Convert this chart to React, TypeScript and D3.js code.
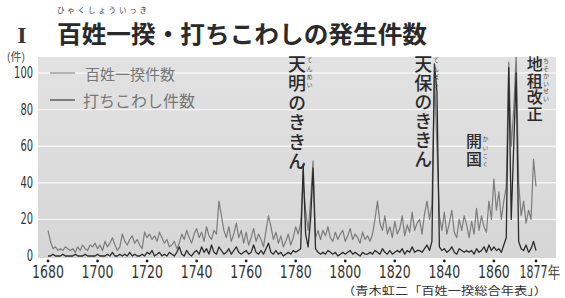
import React from 'react';
import * as d3 from 'd3';

// yearly counts, 1680 - 1877
const startYear = 1680;
const ikkiCounts = [
  14, 8, 4, 5, 3, 4, 3, 5, 4, 3,
  4, 2, 5, 3, 6, 4, 3, 6, 5, 7,
  4, 6, 3, 8, 5, 7, 10, 6, 3, 5,
  12, 8, 6, 9, 11, 7, 9, 6, 4, 13,
  10, 12, 9, 11, 8, 13, 10, 7, 9, 5,
  6, 8, 4, 7, 12, 9, 14, 10, 7, 12,
  15, 10, 13, 8, 16, 11, 9, 14, 12, 30,
  22, 14, 10, 16, 8, 12, 18, 10, 14, 7,
  13, 6, 10, 15, 8, 12, 9, 5, 14, 22,
  16, 9, 13, 7, 11, 5, 8, 12, 6, 10,
  16, 12, 18, 40, 25, 14, 30, 52, 10, 14,
  9, 14, 11, 16, 10, 8, 13, 9, 12, 14,
  8, 11, 15, 9, 12, 10, 7, 13, 9, 11,
  8, 12, 20, 30, 18, 14, 22, 12, 16, 10,
  19, 12, 15, 22, 11, 17, 13, 24, 14, 18,
  20, 12, 23, 30, 20, 28, 100, 60, 22, 14,
  24, 12, 18, 25, 13, 10, 20, 14, 22, 17,
  10, 19, 12, 26, 14, 22, 16, 13, 30, 20,
  42, 25, 35, 20, 30, 38, 106, 60, 80, 110,
  40, 22, 30, 18, 25, 20, 53, 38,
];
const uchikowashiCounts = [
  0, 0, 1, 0, 0, 0, 1, 0, 0, 0,
  0, 1, 0, 0, 0, 1, 0, 0, 0, 0,
  1, 0, 0, 0, 1, 0, 2, 0, 0, 1,
  0, 1, 0, 2, 0, 1, 0, 0, 1, 0,
  2, 1, 3, 0, 1, 2, 0, 1, 0, 2,
  1, 0, 2, 5, 1, 0, 3, 1, 0, 2,
  3, 1, 5, 2, 4, 1, 6, 2, 1, 5,
  3, 1, 2, 4, 1, 3, 5, 2, 1, 2,
  3, 1, 2, 6, 2, 1, 3, 1, 4, 7,
  2, 1, 3, 1, 2, 0, 1, 2, 1, 3,
  2, 3, 4, 50, 12, 5, 20, 48, 4, 2,
  1, 2, 1, 3, 2, 1, 2, 0, 1, 2,
  1, 2, 3, 1, 2, 1, 0, 2, 1, 1,
  2, 1, 3, 2, 1, 4, 2, 1, 3, 1,
  2, 3, 2, 4, 1, 3, 2, 5, 2, 3,
  3, 2, 4, 6, 3, 8, 105, 90, 5, 3,
  4, 2, 3, 5, 2, 1, 4, 3, 2, 3,
  2, 3, 1, 4, 2, 3, 5, 2, 6, 3,
  5, 3, 4, 2, 6, 10, 103, 20, 60, 100,
  8, 4, 3, 6, 2, 4, 8, 3,
];

const yearTicks = [1680, 1700, 1720, 1740, 1760, 1780, 1800, 1820, 1840, 1860, 1877];
const countTicks = [0, 20, 40, 60, 80, 100];
const seriesNames = ['百姓一揆件数', '打ちこわし件数'];

// event labels, anchored to a year
const events = [
  { label: '天明のききん', ruby: 'てんめい', year: 1780.5 },
  { label: '天保のききん', ruby: 'てんぽう', year: 1831.5 },
  { label: '開国', ruby: 'かいこく', year: 1852 },
  { label: '地租改正', ruby: 'ちそかいせい', year: 1876.5 },
];

const W = 565;
const H = 298;
const jp = "'Noto Sans CJK JP', 'Noto Sans', sans-serif";
const num = "'DejaVu Sans Condensed', 'Liberation Sans Narrow', 'DejaVu Sans', sans-serif";

// vertical (tategaki) label as one text element
const VText = ({ text, x, top, gap, size, weight = 500, fill = '#2a2a2a' }: any) => (
  <text x={x} y={top} fontFamily={jp} fontSize={size} fontWeight={weight} fill={fill}
    style={{ writingMode: 'vertical-rl', letterSpacing: `${gap}px` }}>{text}</text>
);

export default function App() {
  const x = d3.scaleLinear().domain([1680, 1877]).range([48, 536]);
  const y = d3.scaleLinear().domain([0, 100]).range([256, 73]);
  const plot = { x0: 38, x1: 556, y0: 57, y1: 258 };

  const line = d3.line<number>()
    .x((_, i) => x(startYear + i))
    .y(d => y(d));

  const eventStyle = [
    { top: 55, gap: 1.5, size: 18, rubyTop: 57, rubyGap: 2.3 },
    { top: 55, gap: 1, size: 18, rubyTop: 57, rubyGap: 2.3 },
    { top: 133, gap: 1.5, size: 16, rubyTop: 136, rubyGap: 2.3 },
    { top: 56, gap: 0.5, size: 16, rubyTop: 58, rubyGap: 1.5 },
  ];

  return (
    <svg width={W} height={H} style={{ position: 'absolute', left: 0, top: 0, background: '#fff' }}>
      <defs>
        <clipPath id="plotClip">
          <rect x={plot.x0} y={plot.y0} width={plot.x1 - plot.x0} height={plot.y1 - plot.y0} />
        </clipPath>
        <linearGradient id="bg" x1="0" y1="0" x2="0" y2="1">
          <stop offset="0" stopColor="#e2e2e2" />
          <stop offset="1" stopColor="#d6d6d6" />
        </linearGradient>
      </defs>

      {/* title */}
      <text x={22} y={43} textAnchor="middle" fontFamily="'Liberation Serif', serif" fontSize={24} fontWeight={700} fill="#333">I</text>
      <text x={57} y={12.5} fontFamily={jp} fontSize={7.5} fill="#444" textLength={90} lengthAdjust="spacing">ひゃくしょういっき</text>
      <text x={57} y={43} fontFamily={jp} fontSize={24} fontWeight={700} fill="#2a2a2a" textLength={370} lengthAdjust="spacingAndGlyphs">百姓一揆・打ちこわしの発生件数</text>

      {/* plot background */}
      <rect x={plot.x0} y={plot.y0} width={plot.x1 - plot.x0} height={plot.y1 - plot.y0} fill="url(#bg)" />
      {countTicks.filter(t => t > 0).map(t => (
        <line key={t} x1={plot.x0} x2={plot.x1} y1={y(t)} y2={y(t)} stroke="#f4f4f4" strokeWidth={1.4} />
      ))}

      {/* y axis */}
      <text x={16} y={61} textAnchor="middle" fontFamily={jp} fontSize={11} fill="#444">(件)</text>
      {countTicks.map(t => (
        <text key={t} x={33} y={y(t)} textAnchor="end" dominantBaseline="central" fontFamily={num}
          fontSize={15} fill="#333" textLength={String(t).length * 6.3} lengthAdjust="spacingAndGlyphs">{t}</text>
      ))}

      {/* x axis (labels squeezed like the condensed print face) */}
      {yearTicks.map(t => {
        const last = t === 1877;
        return (
          <g key={t}>
            <circle cx={x(t)} cy={261} r={1.4} fill="#222" />
            <text transform={`translate(${last ? 560 : x(t)},277.5) scale(${last ? 0.72 : 0.82},1)`}
              textAnchor={last ? 'end' : 'middle'} fontFamily={num} fontSize={17} fill="#333">
              {last ? '1877年' : t}
            </text>
          </g>
        );
      })}

      {/* series */}
      <g clipPath="url(#plotClip)">
        <path d={line(ikkiCounts) || ''} fill="none" stroke="#7c7c7c" strokeWidth={1.2} strokeLinejoin="round" />
        <path d={line(uchikowashiCounts) || ''} fill="none" stroke="#2b2b2b" strokeWidth={1.3} strokeLinejoin="round" />
      </g>

      {/* legend */}
      <line x1={50} x2={75} y1={73} y2={73} stroke="#8a8a8a" strokeWidth={1.2} />
      <text x={85} y={73} dominantBaseline="central" fontFamily={jp} fontSize={15} fill="#777">{seriesNames[0]}</text>
      <line x1={50} x2={75} y1={100} y2={100} stroke="#555" strokeWidth={1.4} />
      <text x={83} y={100} dominantBaseline="central" fontFamily={jp} fontSize={16} fill="#777">{seriesNames[1]}</text>

      {/* events */}
      {events.map((e, i) => {
        const s = eventStyle[i];
        const ex = x(e.year);
        return (
          <g key={e.label}>
            <VText text={e.label} x={ex} top={s.top} gap={s.gap} size={s.size} />
            <VText text={e.ruby} x={ex + s.size * 0.7} top={s.rubyTop} gap={s.rubyGap} size={6} weight={400} fill="#555" />
          </g>
        );
      })}

      {/* source */}
      <text x={342} y={294.5} fontFamily={jp} fontSize={11} fill="#333" textLength={205} lengthAdjust="spacingAndGlyphs">（青木虹二「百姓一揆総合年表」）</text>
    </svg>
  );
}
